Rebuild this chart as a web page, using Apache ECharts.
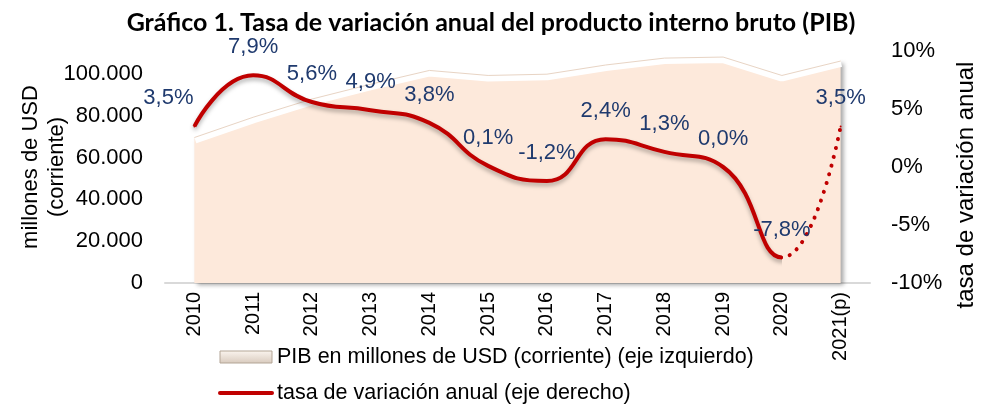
<!DOCTYPE html>
<html>
<head>
<meta charset="UTF-8">
<title>Gráfico 1. Tasa de variación anual del PIB</title>
<script src="https://cdn.jsdelivr.net/npm/echarts@6/dist/echarts.min.js"></script>
<style>html,body,#container{width:982px;height:404px;margin:0;padding:0;background:#fff;}</style>
</head>
<body>
<div id="container"></div>
<script>
// datos
var years = ['2010', '2011', '2012', '2013', '2014', '2015', '2016', '2017', '2018', '2019', '2020', '2021(p)'];
var pib = [69600, 79300, 88000, 95100, 101700, 99300, 99900, 104300, 107600, 108100, 99300, 106200];
var tasa = [3.5, 7.9, 5.6, 4.9, 3.8, 0.1, -1.2, 2.4, 1.3, 0.0, -7.8, 3.5];
var pibName = 'PIB en millones de USD (corriente) (eje izquierdo)';
var tasaName = 'tasa de variación anual (eje derecho)';

var font = 'Liberation Sans';
var red = '#c00000';
var clear = 'rgba(192,0,0,0)';
var W = 982;

function miles(v) {
	return String(v).replace(/\B(?=(\d{3})+(?!\d))/g, '.');
}
function pct(v) {
	return v.toFixed(1).replace('.', ',') + '%';
}

// el ultimo año (proyeccion) va punteado; las dos series llevan todos los
// puntos para que la curva suavizada sea la misma, y un degradado con corte
// en 2020 oculta el tramo que no toca en cada una
var last = tasa.length - 1;
var solid = tasa.map(function (v, i) {
	if (i === last) return { value: v, label: { show: false }, itemStyle: { color: clear } };
	if (i === 0) return { value: v, label: { offset: [-26, 0] } };
	return v;
});
var dotted = tasa.map(function (v, i) {
	return i === last ? v : { value: v, label: { show: false }, itemStyle: { color: clear } };
});

var labelStyle = {
	show: true,
	position: 'top',
	distance: 16,
	color: '#1f3a6e',
	fontFamily: font,
	fontSize: 22,
	formatter: function (p) { return pct(p.value); }
};

var chart = echarts.init(document.getElementById('container'));
chart.setOption({
	animation: false,
	backgroundColor: '#fff',
	title: {
		text: 'Gráfico 1. Tasa de variación anual del producto interno bruto (PIB)',
		left: 'center',
		top: 5,
		textStyle: { fontFamily: 'Lato', fontWeight: 'bold', fontSize: 25, color: '#000' }
	},
	legend: {
		orient: 'vertical',
		left: 218,
		top: 346,
		height: 100,
		padding: 0,
		itemGap: 14,
		itemWidth: 52,
		itemHeight: 12,
		textStyle: { fontFamily: font, fontSize: 21.5, color: '#000' },
		data: [
			{
				name: pibName,
				icon: 'rect',
				itemStyle: {
					color: new echarts.graphic.LinearGradient(0, 0, 0, 1, [
						{ offset: 0, color: '#fbf5ef' },
						{ offset: 1, color: '#d8cabd' }
					]),
					borderColor: '#b3a596',
					borderWidth: 1
				}
			},
			{ name: tasaName, itemStyle: { opacity: 0 }, lineStyle: { color: red, width: 4, cap: 'round' } }
		]
	},
	grid: { left: 165, right: 112, top: 51, bottom: 121, outerBoundsMode: 'none' },
	xAxis: {
		type: 'category',
		data: years,
		boundaryGap: true,
		axisLine: { lineStyle: { color: '#d9d9d9', width: 2 } },
		axisTick: { show: false },
		axisLabel: { rotate: 90, margin: 9, color: '#000', fontFamily: font, fontSize: 20, interval: 0 }
	},
	yAxis: [
		{
			type: 'value',
			min: 0,
			max: 111000,
			interval: 20000,
			name: 'millones de USD\n(corriente)',
			nameLocation: 'middle',
			nameGap: 95,
			nameMoveOverlap: false,
			nameTextStyle: { fontFamily: font, fontSize: 22, color: '#000', lineHeight: 26 },
			axisLine: { show: false },
			axisTick: { show: false },
			splitLine: { show: false },
			axisLabel: {
				margin: 22,
				color: '#000',
				fontFamily: font,
				fontSize: 22,
				formatter: function (v) { return v > 100000 ? '' : miles(v); }
			}
		},
		{
			type: 'value',
			min: -10,
			max: 10,
			interval: 5,
			name: 'tasa de variación anual',
			nameLocation: 'middle',
			nameGap: 84,
			nameTextStyle: { fontFamily: font, fontSize: 24, color: '#000', padding: [0, 36, 0, 0] },
			axisLine: { show: false },
			axisTick: { show: false },
			splitLine: { show: false },
			axisLabel: { margin: 21, color: '#000', fontFamily: font, fontSize: 22, formatter: '{value}%' }
		}
	],
	series: [
		{
			name: pibName,
			type: 'line',
			yAxisIndex: 0,
			data: pib,
			symbol: 'none',
			z: 1,
			lineStyle: { color: '#ffffff', width: 12 },
			areaStyle: {
				color: '#fde9db',
				opacity: 1,
				shadowColor: 'rgba(0,0,0,0.35)',
				shadowBlur: 4,
				shadowOffsetX: 3,
				shadowOffsetY: 2
			}
		},
		{
			name: 'borde',
			type: 'line',
			yAxisIndex: 0,
			data: pib,
			symbol: 'none',
			z: 2,
			silent: true,
			lineStyle: { color: '#e8d4c4', width: 1 }
		},
		{
			name: tasaName,
			type: 'line',
			yAxisIndex: 1,
			data: solid,
			smooth: true,
			symbol: 'circle',
			symbolSize: 2,
			z: 5,
			itemStyle: { color: red },
			lineStyle: {
				color: red,
				width: 4,
				shadowColor: 'rgba(0,0,0,0.3)',
				shadowBlur: 4,
				shadowOffsetY: 3
			},
			label: labelStyle
		},
		{
			name: 'proyección',
			type: 'line',
			yAxisIndex: 1,
			data: dotted,
			smooth: true,
			symbol: 'circle',
			symbolSize: 2,
			z: 5,
			itemStyle: { color: red },
			lineStyle: { color: red, width: 4, type: [0.1, 9], cap: 'round' },
			label: labelStyle
		}
	]
});

// corte del degradado en la posicion de 2020 segun el eje
var cut = chart.convertToPixel({ xAxisIndex: 0 }, last - 1) / W;
function split(before, after) {
	return new echarts.graphic.LinearGradient(0, 0, W, 0, [
		{ offset: 0, color: before },
		{ offset: cut, color: before },
		{ offset: cut, color: after },
		{ offset: 1, color: after }
	], true);
}
chart.setOption({
	series: [
		{},
		{},
		{ lineStyle: { color: split(red, clear) } },
		{ lineStyle: { color: split(clear, red) } }
	]
});
</script>
</body>
</html>
